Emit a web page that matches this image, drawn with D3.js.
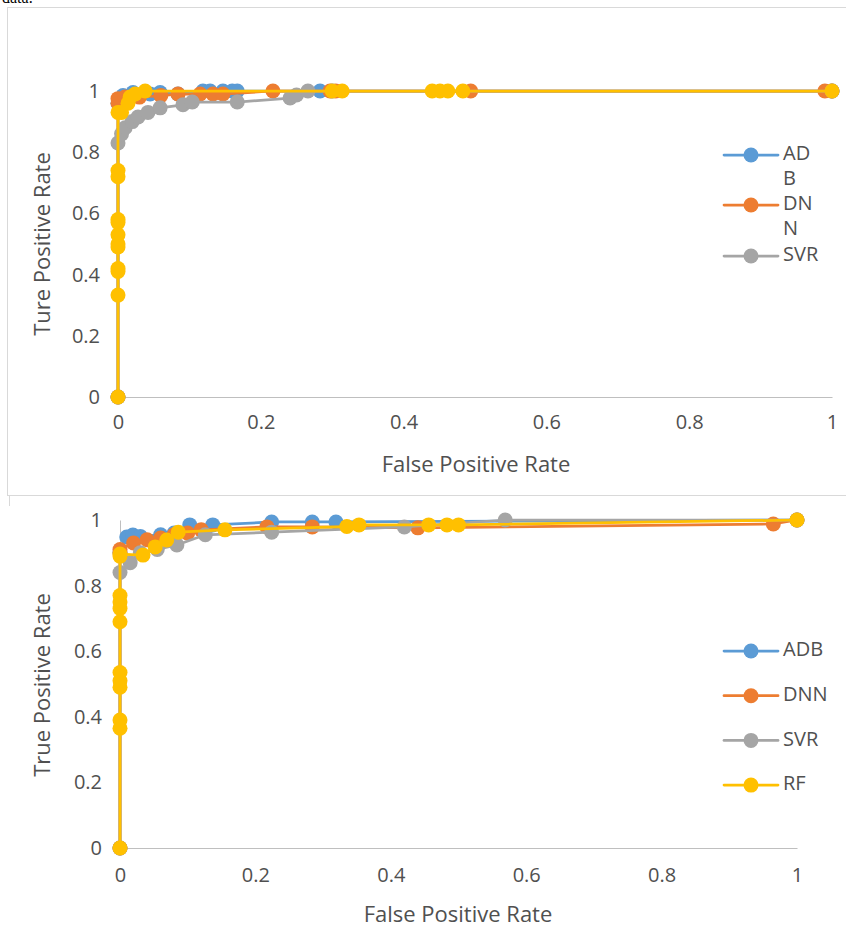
<!DOCTYPE html>
<html>
<head>
<meta charset="utf-8">
<script src="https://cdn.jsdelivr.net/npm/d3@7"></script>
<style>
  body { margin: 0; background: #fff; }
  svg text { font-family: "Open Sans", sans-serif; fill: #505050; }
</style>
</head>
<body>
<svg id="chart"></svg>
<script>
// ---- data: top chart (ADB, DNN, SVR, RF) ----
const top_adb_fpr = [0, 0, 0.007, 0.021, 0.045, 0.059, 0.084, 0.119, 0.129, 0.147, 0.16, 0.167, 0.283, 0.3, 1];
const top_adb_tpr = [0, 0.96, 0.985, 0.995, 0.99, 0.995, 0.99, 1, 1, 1, 1, 1, 1, 1, 1];
const top_dnn_fpr = [0, 0, 0, 0.01, 0.03, 0.06, 0.084, 0.115, 0.133, 0.147, 0.217, 0.297, 0.305, 0.494, 0.99, 1];
const top_dnn_tpr = [0, 0.96, 0.975, 0.98, 0.98, 0.985, 0.99, 0.99, 0.99, 0.99, 1, 1, 1, 1, 1, 1];
const top_svr_fpr = [0, 0, 0.005, 0.01, 0.02, 0.028, 0.042, 0.059, 0.091, 0.104, 0.167, 0.241, 0.25, 0.266, 1];
const top_svr_tpr = [0, 0.83, 0.86, 0.88, 0.9, 0.915, 0.93, 0.945, 0.955, 0.964, 0.964, 0.977, 0.987, 1, 1];
const top_rf_fpr = [0, 0, 0, 0, 0, 0, 0, 0, 0, 0, 0, 0, 0.005, 0.014, 0.017, 0.024, 0.038, 0.3, 0.314, 0.44, 0.451, 0.462, 0.483, 1];
const top_rf_tpr = [0, 0.333, 0.41, 0.42, 0.49, 0.5, 0.53, 0.57, 0.58, 0.72, 0.74, 0.93, 0.93, 0.96, 0.98, 0.99, 1, 1, 1, 1, 1, 1, 1, 1];

// ---- data: bottom chart ----
const bot_adb_fpr = [0, 0, 0.01, 0.019, 0.03, 0.06, 0.08, 0.103, 0.137, 0.224, 0.284, 0.319, 1];
const bot_adb_tpr = [0, 0.9, 0.948, 0.954, 0.95, 0.955, 0.96, 0.985, 0.985, 0.994, 0.994, 0.994, 1];
const bot_dnn_fpr = [0, 0, 0, 0.02, 0.04, 0.06, 0.08, 0.1, 0.12, 0.217, 0.284, 0.44, 0.965, 1];
const bot_dnn_tpr = [0, 0.9, 0.91, 0.93, 0.94, 0.945, 0.955, 0.96, 0.97, 0.979, 0.979, 0.976, 0.988, 1];
const bot_svr_fpr = [0, 0, 0.015, 0.03, 0.055, 0.084, 0.126, 0.224, 0.42, 0.569, 1];
const bot_svr_tpr = [0, 0.84, 0.87, 0.9, 0.91, 0.924, 0.955, 0.963, 0.979, 1, 1];
const bot_rf_fpr = [0, 0, 0, 0, 0, 0, 0, 0, 0, 0, 0, 0, 0.034, 0.052, 0.069, 0.086, 0.155, 0.335, 0.353, 0.456, 0.483, 0.5, 1];
const bot_rf_tpr = [0, 0.365, 0.39, 0.49, 0.51, 0.535, 0.69, 0.73, 0.75, 0.77, 0.89, 0.896, 0.893, 0.918, 0.939, 0.963, 0.97, 0.98, 0.985, 0.985, 0.985, 0.985, 1];

const ticks = [0, 0.2, 0.4, 0.6, 0.8, 1];
const seriesNames = ["ADB", "DNN", "SVR", "RF"];
const colors = ["#5B9BD5", "#ED7D31", "#A5A5A5", "#FFC000"];

const W = 846, H = 933;
const svg = d3.select('#chart').attr('width', W).attr('height', H);

// caption text above the first figure (only its lower edge shows, like the source page)
svg.append('text').attr('x', 2).attr('y', 3).style('font-family', 'Liberation Serif')
  .style('font-size', '16px').style('fill', '#000').text('data.');

// borders
svg.append('rect').attr('x', 7.5).attr('y', 7.5).attr('width', 860).attr('height', 488)
  .attr('fill', 'none').attr('stroke', '#d9d9d9').attr('stroke-width', 1);
svg.append('line').attr('x1', 9.5).attr('x2', 9.5).attr('y1', 496).attr('y2', 506)
  .attr('stroke', '#d9d9d9');

function zip(xs, ys) { return xs.map((x, i) => ({ x: x, y: ys[i] })) }

function drawChart(cfg) {
  const g = svg.append('g');
  const x = d3.scaleLinear().domain([0, 1]).range(cfg.xr);
  const y = d3.scaleLinear().domain([0, 1]).range(cfg.yr);

  // axes
  const xa = g.append('g').attr('transform', `translate(0,${cfg.yr[0]})`)
    .call(d3.axisBottom(x).tickValues(ticks).tickFormat(d3.format('~g')).tickSize(0).tickPadding(cfg.xpad));
  const ya = g.append('g').attr('transform', `translate(${cfg.xr[0]},0)`)
    .call(d3.axisLeft(y).tickValues(ticks).tickFormat(d3.format('~g')).tickSize(0).tickPadding(cfg.ypad));
  [xa, ya].forEach(a => {
    a.select('.domain').attr('stroke', '#bfbfbf').attr('stroke-width', 1);
    a.selectAll('text').style('font-size', '20px').style('fill', '#505050').style('font-family', '"Open Sans", sans-serif');
  });

  // axis titles
  g.append('text').attr('x', cfg.xtitle[0]).attr('y', cfg.xtitle[1]).attr('text-anchor', 'middle')
    .attr('dominant-baseline', 'middle').style('font-size', '22px').text('False Positive Rate');
  g.append('text').attr('transform', `translate(${cfg.ytitle[0]},${cfg.ytitle[1]}) rotate(-90)`)
    .attr('text-anchor', 'middle').attr('dominant-baseline', 'middle').style('font-size', '22px').text(cfg.ylabel);

  // series
  const line = d3.line().x(d => x(d.x)).y(d => y(d.y));
  cfg.series.forEach((s, i) => {
    const data = zip(s[0], s[1]);
    const sg = g.append('g');
    sg.append('path').attr('d', line(data)).attr('fill', 'none')
      .attr('stroke', colors[i]).attr('stroke-width', 2.75).attr('stroke-linejoin', 'round');
    sg.selectAll('circle').data(data).join('circle')
      .attr('cx', d => x(d.x)).attr('cy', d => y(d.y)).attr('r', 7.5)
      .attr('fill', colors[i]);
  });

  // legend
  cfg.legend.forEach((lg, i) => {
    const lgg = g.append('g').attr('transform', `translate(724,${lg.y})`);
    lgg.append('line').attr('x1', 0).attr('x2', 54).attr('stroke', colors[i])
      .attr('stroke-width', 2.75).attr('stroke-linecap', 'round');
    lgg.append('circle').attr('cx', 27).attr('r', 7.5).attr('fill', colors[i]);
    lg.lines.forEach((t, j) => {
      lgg.append('text').attr('x', 59).attr('y', j * 25).attr('dominant-baseline', 'middle')
        .style('font-size', '20px').text(t);
    });
  });
}

drawChart({
  xr: [118, 832], yr: [397, 91], xpad: 18, ypad: 18,
  xtitle: [476, 466], ytitle: [44, 244], ylabel: 'Ture Positive Rate',
  series: [[top_adb_fpr, top_adb_tpr], [top_dnn_fpr, top_dnn_tpr], [top_svr_fpr, top_svr_tpr], [top_rf_fpr, top_rf_tpr]],
  legend: [{ y: 155, lines: ['AD', 'B'] }, { y: 205, lines: ['DN', 'N'] }, { y: 256, lines: ['SVR'] }]
});

drawChart({
  xr: [120, 797], yr: [848, 520], xpad: 20, ypad: 18,
  xtitle: [458, 916], ytitle: [44, 685], ylabel: 'True Positive Rate',
  series: [[bot_adb_fpr, bot_adb_tpr], [bot_dnn_fpr, bot_dnn_tpr], [bot_svr_fpr, bot_svr_tpr], [bot_rf_fpr, bot_rf_tpr]],
  legend: seriesNames.map((n, i) => ({ y: 651 + i * 44.7, lines: [n] }))
});
</script>
</body>
</html>
